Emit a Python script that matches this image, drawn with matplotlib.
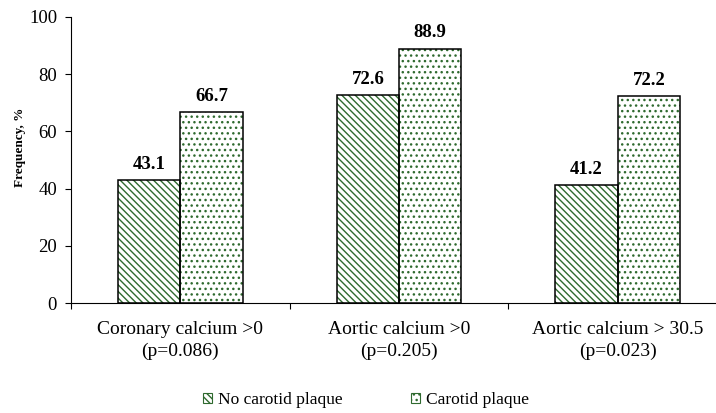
import numpy as np
import matplotlib
matplotlib.use("Agg")
import matplotlib.pyplot as plt
from matplotlib.patches import Patch

categories = ["Coronary calcium >0\n(p=0.086)",
              "Aortic calcium >0\n(p=0.205)",
              "Aortic calcium > 30.5\n(p=0.023)"]
no_plaque = [43.1, 72.6, 41.2]
plaque = [66.7, 88.9, 72.2]
series_names = ["No carotid plaque", "Carotid plaque"]
yticks = [0, 20, 40, 60, 80, 100]

plt.rcParams['font.family'] = ['Liberation Serif', 'DejaVu Serif']
plt.rcParams['hatch.linewidth'] = 1.0

green = '#2f6a2f'
diag = '\\\\\\\\\\'
dots = '...'
fig = plt.figure(figsize=(7.16, 4.13), dpi=100)
ax = fig.add_axes([71 / 716, 0.2656, 656 / 716, 0.694])

x = np.arange(len(categories))
w = 0.285

# hatch fill drawn in green, outline drawn separately in black
ax.bar(x - w / 2, no_plaque, w, color='white', edgecolor=green, hatch=diag, linewidth=0)
ax.bar(x + w / 2, plaque, w, color='white', edgecolor=green, hatch=dots, linewidth=0)
ax.bar(x - w / 2, no_plaque, w, fill=False, edgecolor='black', linewidth=1.1)
ax.bar(x + w / 2, plaque, w, fill=False, edgecolor='black', linewidth=1.1)

for i in range(len(categories)):
    ax.text(x[i] - w / 2, no_plaque[i] + 2.5, f"{no_plaque[i]:.1f}", ha='center', va='bottom',
            fontsize=13.5, fontweight='bold')
    ax.text(x[i] + w / 2, plaque[i] + 2.5, f"{plaque[i]:.1f}", ha='center', va='bottom',
            fontsize=13.5, fontweight='bold')

ax.set_xlim(-0.5, 2.5)
ax.set_ylim(0, 100)
ax.set_yticks(yticks)
ax.tick_params(axis='y', direction='out', length=4, width=0.8, pad=6, labelsize=13.5)
ax.set_xticks([-0.5, 0.5, 1.5, 2.5])
ax.set_xticklabels([])
ax.tick_params(axis='x', which='major', direction='out', length=4, width=0.8)
ax.set_xticks(x, minor=True)
ax.set_xticklabels(categories, minor=True, fontsize=14, linespacing=1.3)
ax.tick_params(axis='x', which='minor', length=0, pad=13)

for s in ['top', 'right']:
    ax.spines[s].set_visible(False)
ax.spines['left'].set_linewidth(0.8)
ax.spines['bottom'].set_linewidth(0.8)

fig.text(20 / 716, 0.643, "Frequency, %", rotation=90, ha='center', va='center',
         fontsize=9.5, fontweight='bold')

handles = [Patch(facecolor='white', edgecolor=green, hatch=diag, linewidth=0.8),
           Patch(facecolor='white', edgecolor=green, hatch=dots, linewidth=0.8)]
fig.legend(handles, series_names, loc='center', bbox_to_anchor=(366 / 716, 0.031), ncol=2,
           frameon=False, fontsize=12.5, handlelength=0.55, handleheight=0.55,
           handletextpad=0.35, columnspacing=3.9, borderpad=0)

fig.savefig("out.png", dpi=100)
